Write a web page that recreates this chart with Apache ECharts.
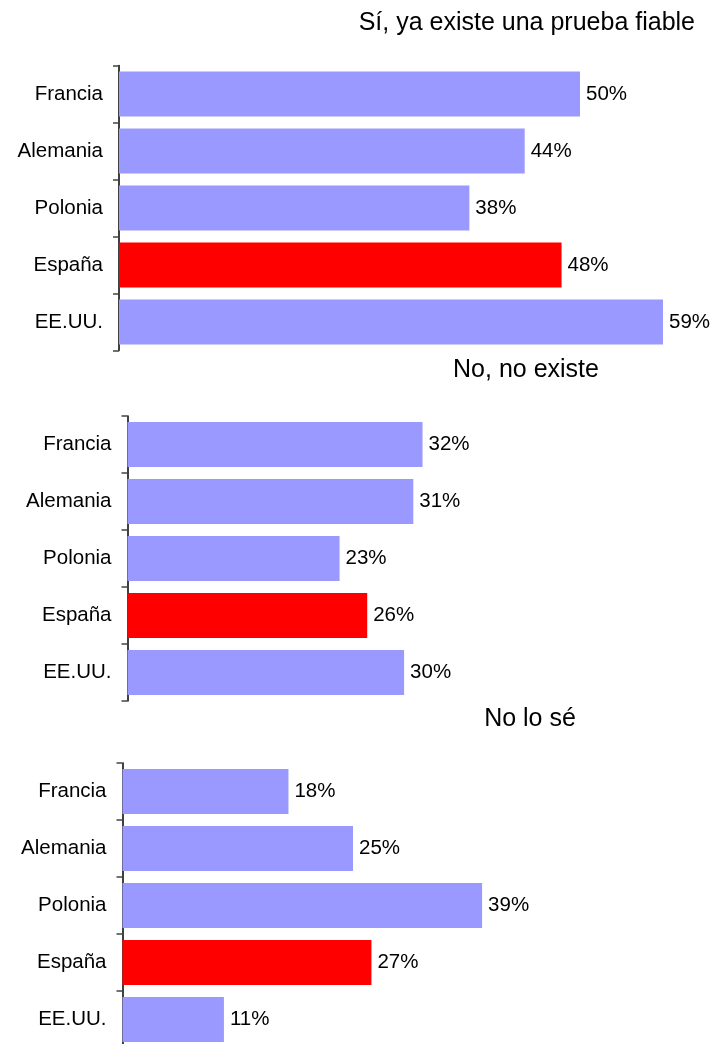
<!DOCTYPE html>
<html>
<head>
<meta charset="utf-8">
<script src="https://cdn.jsdelivr.net/npm/echarts@6/dist/echarts.min.js"></script>
<style>
html,body{margin:0;padding:0;background:#fff;}
#chart{width:715px;height:1044px;}
</style>
</head>
<body>
<div id="chart"></div>
<script>
// Data
const categories = ["Francia", "Alemania", "Polonia", "España", "EE.UU."];
const panelTitles = ["Sí, ya existe una prueba fiable", "No, no existe", "No lo sé"];
const siExiste = [50, 44, 38, 48, 59];
const noExiste = [32, 31, 23, 26, 30];
const noLoSe = [18, 25, 39, 27, 11];
const highlightCategory = "España";

const seriesData = [siExiste, noExiste, noLoSe];

// Layout (pixels)
const grids = [
  {left: 119, top: 65.5, width: 553.2, height: 285, outerBoundsMode: 'none'},
  {left: 127.5, top: 416, width: 553.2, height: 285, outerBoundsMode: 'none'},
  {left: 122.5, top: 763, width: 553.2, height: 285, outerBoundsMode: 'none'}
];
const titlePos = [
  {right: 20, top: 11},
  {left: 526, top: 358, textAlign: 'center'},
  {left: 530, top: 707, textAlign: 'center'}
];

const FONT = "'Liberation Sans', Arial, sans-serif";
const chart = echarts.init(document.getElementById('chart'), null, {renderer: 'canvas'});

const option = {
  animation: false,
  backgroundColor: '#fff',
  title: panelTitles.map((t, i) => Object.assign({
    text: t,
    textStyle: {fontFamily: FONT, fontSize: 25, fontWeight: 'normal', color: '#000'},
    padding: 0
  }, titlePos[i])),
  grid: grids,
  xAxis: grids.map((g, i) => ({
    type: 'value', gridIndex: i, min: 0, max: 60, show: false
  })),
  yAxis: grids.map((g, i) => ({
    type: 'category', gridIndex: i, data: categories, inverse: true,
    axisLine: {show: true, lineStyle: {color: '#000', width: 1.5}},
    axisTick: {show: true, length: 6, lineStyle: {color: '#444', width: 1.5}},
    axisLabel: {fontFamily: FONT, fontSize: 20.5, color: '#000', margin: 16},
    splitLine: {show: false}
  })),
  series: seriesData.map((arr, i) => ({
    type: 'bar', xAxisIndex: i, yAxisIndex: i,
    barWidth: 45,
    data: arr.map((v, j) => ({
      value: v,
      itemStyle: {color: categories[j] === highlightCategory ? '#FF0000' : '#9999FF'}
    })),
    label: {
      show: true, position: 'right', distance: 6,
      formatter: p => p.value + '%',
      fontFamily: FONT, fontSize: 20.5, color: '#000'
    }
  }))
};
chart.setOption(option);
</script>
</body>
</html>
